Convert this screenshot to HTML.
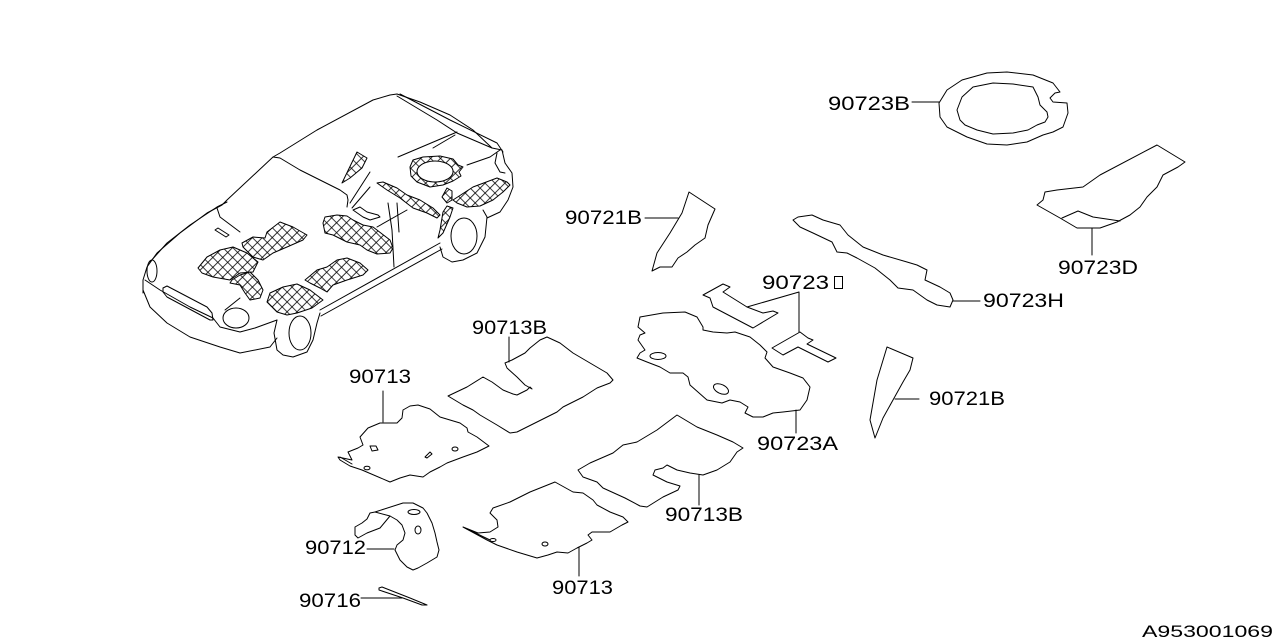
<!DOCTYPE html>
<html><head><meta charset="utf-8">
<style>
html,body{margin:0;padding:0;background:#fff;}
svg{display:block;}
text{font-family:"Liberation Sans",sans-serif;font-size:19.5px;fill:#000;}
</style></head>
<body>
<svg width="1280" height="640" viewBox="0 0 1280 640" xmlns="http://www.w3.org/2000/svg">
<defs>
<pattern id="h" width="7" height="7" patternUnits="userSpaceOnUse" patternTransform="rotate(45)">
<rect width="7" height="7" fill="#fff"/>
<path d="M0 3.5H7M3.5 0V7" stroke="#000" stroke-width="0.8" fill="none"/>
</pattern>
</defs>
<g fill="none" stroke="#000" stroke-width="1" stroke-linejoin="round" stroke-linecap="round">

<!-- ================= CAR ================= -->
<path d="M143,293 L143,280 L147,267 L157,253 L180,233 L207,213 L222,205 L227,200 L273,157 L280,153 L317,130 L373,100 L390,95 L397,94 L420,102 L450,115 L473,130 L492,148 L502,150 L505,163 L512,173 L513,187 L508,200 L500,212 L487,218"/>
<path d="M150,262 L167,243 L190,225 L217,207 L227,202"/>
<path d="M217,208 L220,217 L240,232"/>
<path d="M273,157 L280,158 L300,170 L340,190 L347,195 L348,200 L347,207"/>
<path d="M350,203 L370,172"/><path d="M352,208 L370,187"/>
<path d="M397,96 L437,120 L457,133 L492,148"/>
<path d="M400,94 L450,120 L497,143 L503,152"/>
<path d="M398,157 L457,132"/>
<path d="M433,148 L455,135"/>
<path d="M467,165 L490,157 L500,150"/>
<path d="M497,153 L495,163 L500,172 L505,173"/>
<ellipse cx="152" cy="271" rx="5" ry="11"/>
<path d="M143,283 L143,290 L150,307 L167,323 L190,337 L220,347 L240,353 L270,347 L277,338"/>
<path d="M145,280 L160,290 L190,307 L213,318 L220,327 L240,332 L255,328 L277,320"/>
<path d="M163,288 L167,286 L207,307 L212,313 L213,320 L210,320 L167,297 L163,292 Z"/>
<ellipse cx="236" cy="318" rx="13" ry="10"/>
<path d="M225,310 L240,298"/>
<path d="M215,230 L218,228 L229,235 L226,237 Z"/>
<path d="M277,320 L274,333 L277,350 L283,355 L293,357 L307,352 L313,340 L317,323 L320,313"/>
<ellipse cx="300" cy="333" rx="11" ry="17"/>
<path d="M320,310 L440,243"/>
<path d="M321,316 L442,249"/>
<path d="M388,203 L392,230 L394,267"/>
<path d="M397,203 L399,232"/>
<path d="M377,227 L407,210"/>
<path d="M440,247 L443,257 L452,262 L463,260 L477,253 L485,237 L487,217 L483,210"/>
<ellipse cx="464" cy="236" rx="13" ry="18"/>

<path fill="url(#h)" fill-rule="evenodd" d="M410,167 L413,160 L423,157 L440,156 L453,159 L458,165 L463,167 L459,172 L461,176 L453,181 L443,185 L430,187 L417,182 L411,176 Z M435,161 A18,10.5 0 1,0 435.1,161 Z"/>
<path fill="url(#h)" d="M342,183 L357,152 L367,158 L362,168 L350,178 Z"/>
<path fill="url(#h)" d="M453,200 L473,187 L497,178 L507,182 L510,185 L503,192 L493,200 L480,206 L467,207 L457,203 Z"/>
<path fill="url(#h)" d="M442,197 L447,188 L452,191 L452,200 L447,203 Z"/>
<path fill="url(#h)" d="M438,238 L440,230 L443,212 L447,206 L453,208 L450,217 L443,233 Z"/>
<path fill="url(#h)" d="M377,183 L383,182 L397,188 L407,195 L420,200 L433,208 L440,215 L437,218 L427,213 L413,208 L400,198 L387,190 Z"/>
<path fill="url(#h)" d="M325,217 L337,215 L347,216 L353,220 L363,225 L373,227 L390,240 L393,248 L390,253 L377,254 L367,250 L360,245 L347,242 L333,235 L325,233 L323,223 Z"/>
<path fill="url(#h)" d="M242,243 L253,237 L265,238 L267,232 L280,222 L293,227 L307,235 L303,240 L287,247 L273,253 L263,260 L253,257 L243,247 Z"/>
<path fill="url(#h)" d="M198,268 L207,257 L220,250 L233,247 L247,253 L258,262 L253,272 L240,273 L230,280 L213,277 L202,273 Z"/>
<path fill="url(#h)" d="M232,280 L240,275 L250,272 L258,280 L263,290 L260,298 L250,300 L245,293 L240,285 L230,283 Z"/>
<path fill="url(#h)" d="M267,302 L270,293 L283,287 L297,284 L310,290 L323,300 L312,308 L297,313 L287,315 L277,312 Z"/>
<path fill="url(#h)" d="M305,280 L317,270 L327,267 L337,260 L347,258 L360,263 L368,270 L363,275 L347,280 L333,285 L327,292 L320,288 L310,283 Z"/>
<path d="M353,210 L360,207 L367,212 L378,215 L380,217 L370,220 L363,217 Z"/>

<!-- ================= PARTS ================= -->
<path d="M939,103 L947,90 L962,80 L987,73 L1007,72 L1033,75 L1053,83 L1060,92 L1055,93 L1050,98 L1053,102 L1067,103 L1068,113 L1063,127 L1053,132 L1043,135 L1027,142 L1007,145 L987,144 L967,137 L947,127 L940,117 Z"/>
<path d="M957,110 L962,97 L973,87 L993,83 L1013,84 L1033,87 L1038,97 L1040,105 L1047,112 L1048,117 L1045,122 L1037,125 L1028,130 L1013,133 L993,134 L977,130 L965,125 L960,120 Z"/>
<path d="M912,102 L939,102"/>

<path d="M1157,145 L1185,162 L1178,167 L1163,175 L1157,187 L1147,197 L1140,207 L1130,215 L1117,222 L1100,228 L1077,228 L1060,218 L1037,205 L1043,200 L1045,192 L1057,190 L1083,187 L1100,175 Z"/>
<path d="M1062,218 L1078,211 L1093,217 L1120,221"/>
<path d="M1092,228 L1092,255"/>

<path d="M793,220 L798,217 L812,215 L823,220 L840,225 L848,235 L863,247 L883,255 L907,262 L917,265 L927,270 L925,280 L940,287 L950,293 L953,300 L950,307 L937,305 L927,300 L913,290 L898,288 L890,280 L875,268 L857,258 L847,253 L837,252 L832,242 L813,233 L800,227 Z"/>
<path d="M953,301 L980,301"/>

<path d="M689,192 L715,209 L708,225 L705,238 L695,245 L687,252 L678,258 L672,267 L660,267 L652,271 L657,253 L670,233 L682,213 Z"/>
<path d="M645,218 L678,218"/>

<path d="M887,347 L913,358 L910,370 L903,382 L893,400 L883,418 L875,438 L870,420 L877,380 Z"/>
<path d="M895,399 L919,399"/>

<path d="M703,295 L723,284 L730,287 L723,292 L747,307 L763,313 L773,311 L778,313 L753,328 L713,307 L710,298 Z"/>
<path d="M772,348 L800,332 L808,338 L813,340 L807,344 L836,358 L828,362 L798,347 L783,355 Z"/>
<path d="M747,307 L799,292 L799,332"/>

<path d="M640,317 L663,313 L685,312 L697,317 L703,327 L703,330 L713,332 L727,333 L735,332 L750,337 L760,345 L767,352 L765,358 L773,367 L790,373 L803,378 L810,387 L807,400 L800,410 L783,412 L773,413 L763,417 L753,417 L745,413 L748,407 L740,402 L730,400 L722,403 L707,400 L690,385 L688,377 L683,373 L670,373 L660,367 L647,362 L637,358 L640,353 L645,350 L638,340 L640,335 L645,333 L638,327 Z"/>
<ellipse cx="658" cy="356" rx="8" ry="3.5"/>
<ellipse cx="721" cy="389" rx="8" ry="4.5" transform="rotate(25 721 389)"/>
<path d="M796,410 L796,433"/>

<path d="M448,396 L467,387 L483,377 L492,382 L503,390 L513,394 L517,395 L527,390 L530,387 L532,389 L525,385 L517,377 L507,368 L505,363 L512,360 L525,353 L530,348 L540,340 L547,337 L560,343 L573,353 L590,363 L607,373 L613,380 L610,383 L597,388 L583,397 L563,407 L557,412 L537,422 L517,432 L510,433 L497,425 L480,415 L473,410 L463,405 Z"/>
<path d="M509,337 L509,362"/>

<path d="M338,457 L352,460 L348,452 L358,448 L363,445 L360,437 L368,428 L380,423 L397,423 L402,418 L403,410 L410,406 L418,405 L430,409 L440,417 L450,420 L460,423 L467,428 L468,432 L477,437 L489,446 L477,452 L463,457 L447,463 L440,467 L430,472 L423,477 L410,475 L400,478 L390,482 L362,470 L350,466 L340,460 Z"/>
<path d="M340,457 L352,464"/>
<path d="M370,446 L376,446 L378,450 L372,451 Z"/>
<path d="M425,457 L430,452 L432,454 L427,458 Z"/>
<ellipse cx="455" cy="449" rx="3" ry="2"/>
<ellipse cx="367" cy="468" rx="3" ry="1.8"/>
<path d="M383,391 L383,422"/>

<path d="M578,470 L590,463 L613,453 L623,445 L637,442 L657,430 L677,415 L697,427 L717,435 L733,442 L743,448 L737,452 L730,462 L717,470 L703,475 L690,473 L677,470 L667,465 L663,468 L655,470 L653,475 L667,482 L680,486 L678,490 L663,497 L647,507 L640,506 L625,498 L603,488 L597,482 L583,477 Z"/>
<path d="M699,475 L699,505"/>

<path d="M463,527 L478,533 L490,532 L498,527 L497,520 L490,513 L493,508 L510,502 L530,492 L555,482 L573,492 L583,493 L593,500 L597,505 L610,512 L623,517 L628,522 L622,525 L610,532 L602,532 L592,532 L588,535 L592,540 L587,543 L577,548 L568,553 L557,552 L548,555 L537,558 L517,552 L497,545 L487,540 Z"/>
<path d="M465,528 L490,540"/>
<ellipse cx="493" cy="540" rx="3" ry="1.5"/>
<ellipse cx="545" cy="544" rx="3" ry="2"/>
<path d="M579,547 L579,576"/>

<path d="M375,512 L403,503 L413,503 L423,508 L427,513 L432,523 L435,533 L437,542 L439,550 L437,557 L427,563 L418,568 L413,570 L407,567 L400,560 L395,550 L397,545 L403,540 L405,533 L402,525 L397,520 L390,516 L380,528 L367,533 L358,538 L355,535 L355,527 L362,523 L367,519 L370,513 Z"/>
<path d="M375,512 L390,516"/>
<ellipse cx="414" cy="512" rx="6" ry="2.5"/>
<ellipse cx="418" cy="530" rx="3" ry="4"/>
<path d="M367,549 L394,549"/>

<path d="M379,588 L382,587 L410,598 L427,605 L422,605 L403,598 L379,590 Z"/>
<path d="M361,598 L402,598"/>
</g>

<g>
<text x="828" y="110" textLength="82" lengthAdjust="spacingAndGlyphs">90723B</text>
<text x="565" y="224" textLength="77" lengthAdjust="spacingAndGlyphs">90721B</text>
<text x="762" y="289" textLength="67" lengthAdjust="spacingAndGlyphs">90723</text>
<rect x="834.5" y="276.5" width="8" height="12" fill="none" stroke="#000" stroke-width="1"/>
<text x="983" y="307" textLength="81" lengthAdjust="spacingAndGlyphs">90723H</text>
<text x="1058" y="274" textLength="80" lengthAdjust="spacingAndGlyphs">90723D</text>
<text x="757" y="450" textLength="81" lengthAdjust="spacingAndGlyphs">90723A</text>
<text x="929" y="405" textLength="76" lengthAdjust="spacingAndGlyphs">90721B</text>
<text x="472" y="334" textLength="75" lengthAdjust="spacingAndGlyphs">90713B</text>
<text x="349" y="383" textLength="62" lengthAdjust="spacingAndGlyphs">90713</text>
<text x="665" y="521" textLength="78" lengthAdjust="spacingAndGlyphs">90713B</text>
<text x="305" y="554" textLength="61" lengthAdjust="spacingAndGlyphs">90712</text>
<text x="299" y="607" textLength="62" lengthAdjust="spacingAndGlyphs">90716</text>
<text x="552" y="594" textLength="61" lengthAdjust="spacingAndGlyphs">90713</text>
<text x="1142" y="637" textLength="131" lengthAdjust="spacingAndGlyphs" style="font-size:17px">A953001069</text>
</g>
</svg>
</body></html>
